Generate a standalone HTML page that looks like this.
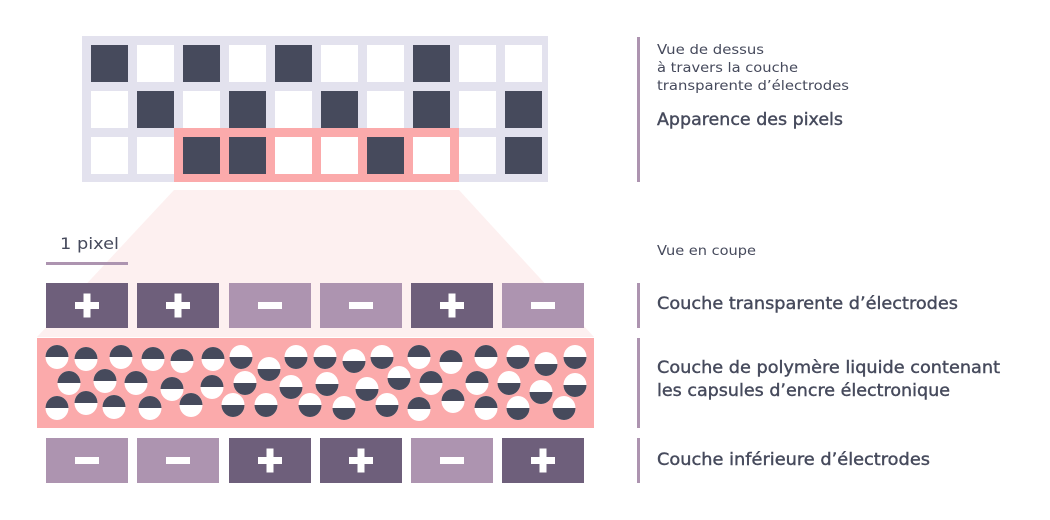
<!DOCTYPE html>
<html><head><meta charset="utf-8"><style>
html,body{margin:0;padding:0;background:#fff;}
svg{display:block;font-family:"DejaVu Sans","Liberation Sans",sans-serif;}
</style></head><body>
<svg width="1050" height="520" viewBox="0 0 1050 520" xmlns="http://www.w3.org/2000/svg">
<defs>
<g id="D"><ellipse rx="11.5" ry="12" fill="#fff"/><path d="M-11.5,0 A11.5,12 0 0 1 11.5,0 Z" fill="#464a5c"/></g>
<g id="W"><ellipse rx="11.5" ry="12" fill="#fff"/><path d="M-11.5,0 A11.5,12 0 0 0 11.5,0 Z" fill="#464a5c"/></g>
<g id="P"><rect x="-12" y="-3.5" width="24" height="7" fill="#fff"/><rect x="-3.5" y="-12" width="7" height="24" fill="#fff"/></g>
<g id="M"><rect x="-12" y="-3.5" width="24" height="7" fill="#fff"/></g>
</defs>

<polygon points="174,190 459,190 594,337 37,337" fill="#fdf0f0"/>

<rect x="82" y="36" width="466" height="146" fill="#e3e2ee"/>
<rect x="174" y="128" width="285" height="54" fill="#fbaaab"/>
<g fill="#fff">
<rect x="91" y="45" width="37" height="37" fill="#464a5c"/><rect x="137" y="45" width="37" height="37"/><rect x="183" y="45" width="37" height="37" fill="#464a5c"/><rect x="229" y="45" width="37" height="37"/><rect x="275" y="45" width="37" height="37" fill="#464a5c"/><rect x="321" y="45" width="37" height="37"/><rect x="367" y="45" width="37" height="37"/><rect x="413" y="45" width="37" height="37" fill="#464a5c"/><rect x="459" y="45" width="37" height="37"/><rect x="505" y="45" width="37" height="37"/>
<rect x="91" y="91" width="37" height="37"/><rect x="137" y="91" width="37" height="37" fill="#464a5c"/><rect x="183" y="91" width="37" height="37"/><rect x="229" y="91" width="37" height="37" fill="#464a5c"/><rect x="275" y="91" width="37" height="37"/><rect x="321" y="91" width="37" height="37" fill="#464a5c"/><rect x="367" y="91" width="37" height="37"/><rect x="413" y="91" width="37" height="37" fill="#464a5c"/><rect x="459" y="91" width="37" height="37"/><rect x="505" y="91" width="37" height="37" fill="#464a5c"/>
<rect x="91" y="137" width="37" height="37"/><rect x="137" y="137" width="37" height="37"/><rect x="183" y="137" width="37" height="37" fill="#464a5c"/><rect x="229" y="137" width="37" height="37" fill="#464a5c"/><rect x="275" y="137" width="37" height="37"/><rect x="321" y="137" width="37" height="37"/><rect x="367" y="137" width="37" height="37" fill="#464a5c"/><rect x="413" y="137" width="37" height="37"/><rect x="459" y="137" width="37" height="37"/><rect x="505" y="137" width="37" height="37" fill="#464a5c"/>
</g>

<text x="60" y="249" font-size="16" fill="#464a5c" textLength="59" lengthAdjust="spacingAndGlyphs">1 pixel</text>
<rect x="46" y="262" width="82" height="3" fill="#ad94b0"/>

<g>
<rect x="46" y="283" width="82" height="45" fill="#6e5f7b"/><use href="#P" x="87" y="305.5"/>
<rect x="137" y="283" width="82" height="45" fill="#6e5f7b"/><use href="#P" x="178" y="305.5"/>
<rect x="229" y="283" width="82" height="45" fill="#ad94b0"/><use href="#M" x="270" y="305.5"/>
<rect x="320" y="283" width="82" height="45" fill="#ad94b0"/><use href="#M" x="361" y="305.5"/>
<rect x="411" y="283" width="82" height="45" fill="#6e5f7b"/><use href="#P" x="452" y="305.5"/>
<rect x="502" y="283" width="82" height="45" fill="#ad94b0"/><use href="#M" x="543" y="305.5"/>
</g>

<rect x="37" y="338" width="557" height="90" fill="#fbaaab"/>
<use href="#D" x="57" y="357"/><use href="#D" x="86" y="359"/><use href="#D" x="121" y="357"/><use href="#D" x="153" y="359"/><use href="#D" x="182" y="361"/><use href="#D" x="213" y="359"/><use href="#W" x="241" y="357"/><use href="#W" x="269" y="369"/><use href="#W" x="296" y="357"/><use href="#W" x="325" y="357"/><use href="#W" x="354" y="361"/><use href="#W" x="382" y="357"/><use href="#D" x="419" y="357"/><use href="#D" x="451" y="362"/><use href="#D" x="486" y="357"/><use href="#W" x="518" y="357"/><use href="#W" x="546" y="364"/><use href="#W" x="575" y="357"/>
<use href="#D" x="69" y="383"/><use href="#D" x="105" y="381"/><use href="#D" x="136" y="383"/><use href="#D" x="172" y="389"/><use href="#D" x="212" y="387"/><use href="#W" x="245" y="383"/><use href="#W" x="291" y="387"/><use href="#W" x="327" y="384"/><use href="#W" x="367" y="389"/><use href="#W" x="399" y="378"/><use href="#D" x="431" y="383"/><use href="#D" x="477" y="383"/><use href="#W" x="509" y="383"/><use href="#W" x="541" y="392"/><use href="#W" x="575" y="385"/>
<use href="#D" x="57" y="408"/><use href="#D" x="86" y="403"/><use href="#D" x="114" y="407"/><use href="#D" x="150" y="408"/><use href="#D" x="191" y="405"/><use href="#W" x="233" y="405"/><use href="#W" x="266" y="405"/><use href="#W" x="310" y="405"/><use href="#W" x="344" y="408"/><use href="#W" x="387" y="405"/><use href="#D" x="419" y="409"/><use href="#D" x="453" y="401"/><use href="#D" x="486" y="408"/><use href="#W" x="518" y="408"/><use href="#W" x="564" y="408"/>

<g>
<rect x="46" y="438" width="82" height="45" fill="#ad94b0"/><use href="#M" x="87" y="460.5"/>
<rect x="137" y="438" width="82" height="45" fill="#ad94b0"/><use href="#M" x="178" y="460.5"/>
<rect x="229" y="438" width="82" height="45" fill="#6e5f7b"/><use href="#P" x="270" y="460.5"/>
<rect x="320" y="438" width="82" height="45" fill="#6e5f7b"/><use href="#P" x="361" y="460.5"/>
<rect x="411" y="438" width="82" height="45" fill="#ad94b0"/><use href="#M" x="452" y="460.5"/>
<rect x="502" y="438" width="82" height="45" fill="#6e5f7b"/><use href="#P" x="543" y="460.5"/>
</g>

<g fill="#ad94b0">
<rect x="637" y="37" width="3" height="145"/>
<rect x="637" y="283" width="3" height="45"/>
<rect x="637" y="338" width="3" height="90"/>
<rect x="637" y="438" width="3" height="45"/>
</g>

<g fill="#464a5c" lengthAdjust="spacingAndGlyphs">
<text x="657" y="54" font-size="13" textLength="107" lengthAdjust="spacingAndGlyphs">Vue de dessus</text>
<text x="657" y="72" font-size="13" textLength="141" lengthAdjust="spacingAndGlyphs">à travers la couche</text>
<text x="657" y="90" font-size="13" textLength="192" lengthAdjust="spacingAndGlyphs">transparente d’électrodes</text>
<text x="657" y="125" font-size="17" stroke="#464a5c" stroke-width="0.4" textLength="186" lengthAdjust="spacingAndGlyphs">Apparence des pixels</text>
<text x="657" y="255" font-size="13" textLength="99" lengthAdjust="spacingAndGlyphs">Vue en coupe</text>
<text x="657" y="309" font-size="17" stroke="#464a5c" stroke-width="0.4" textLength="301" lengthAdjust="spacingAndGlyphs">Couche transparente d’électrodes</text>
<text x="657" y="373" font-size="17" stroke="#464a5c" stroke-width="0.4" textLength="343" lengthAdjust="spacingAndGlyphs">Couche de polymère liquide contenant</text>
<text x="657" y="396" font-size="17" stroke="#464a5c" stroke-width="0.4" textLength="293" lengthAdjust="spacingAndGlyphs">les capsules d’encre électronique</text>
<text x="657" y="465" font-size="17" stroke="#464a5c" stroke-width="0.4" textLength="273" lengthAdjust="spacingAndGlyphs">Couche inférieure d’électrodes</text>
</g>
</svg>
</body></html>
